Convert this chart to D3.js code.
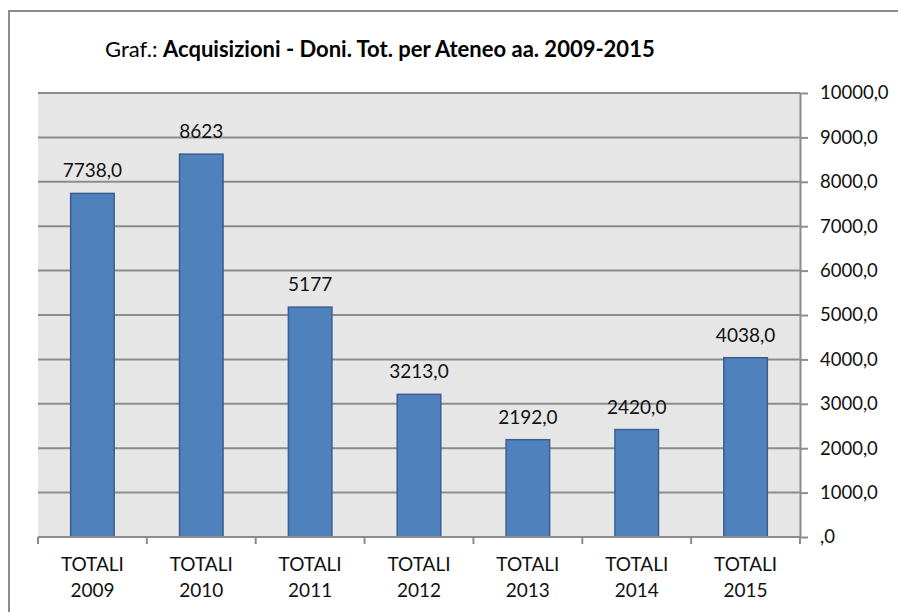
<!DOCTYPE html>
<html>
<head>
<meta charset="utf-8">
<script src="https://cdn.jsdelivr.net/npm/d3@7"></script>
<style>
  body { margin: 0; background: #fff; }
  svg { display: block; font-family: Lato, "Open Sans", sans-serif; }
</style>
</head>
<body>
<div id="chart"></div>
<script>
var categories = ["TOTALI 2009", "TOTALI 2010", "TOTALI 2011", "TOTALI 2012", "TOTALI 2013", "TOTALI 2014", "TOTALI 2015"];
var values = [7738, 8623, 5177, 3213, 2192, 2420, 4038];
var valueLabels = ["7738,0", "8623", "5177", "3213,0", "2192,0", "2420,0", "4038,0"];
var yTicks = [0, 1000, 2000, 3000, 4000, 5000, 6000, 7000, 8000, 9000, 10000];

var width = 898;
var height = 612;

var margin = ({
    top: 93,
    right: 98,
    bottom: 75,
    left: 38
})

var svg = d3.select("#chart")
    .append("svg")
    .attr("width", width)
    .attr("height", height)

// outer frame, runs off the right and bottom edge
svg.append("rect")
    .attr("x", 9)
    .attr("y", 11)
    .attr("width", 1000)
    .attr("height", 1000)
    .attr("fill", "none")
    .attr("stroke", "#8c8c8c")
    .attr("stroke-width", 2)

var x = d3.scaleBand()
    .domain(categories)
    .range([margin.left, width - margin.right])
    .paddingInner(0.6)
    .paddingOuter(0.3)

var y = d3.scaleLinear()
    .domain([0, 10000])
    .range([height - margin.bottom, margin.top]);

// plot background
svg.append("rect")
    .attr("x", margin.left)
    .attr("y", y(10000))
    .attr("width", width - margin.right - margin.left)
    .attr("height", y(0) - y(10000))
    .attr("fill", "#e6e6e6")

// gridlines
svg.append("g")
    .selectAll("line")
    .data(yTicks.filter(d => d > 0))
    .enter().append("line")
        .attr("x1", margin.left)
        .attr("x2", width - margin.right)
        .attr("y1", d => y(d))
        .attr("y2", d => y(d))
        .attr("stroke", "#8c8c8c")
        .attr("stroke-width", 2)

// bars
svg.append("g")
    .selectAll("rect")
    .data(values)
    .enter().append("rect")
        .attr("x", (d, i) => x(categories[i]))
        .attr("width", x.bandwidth())
        .attr("y", d => y(d))
        .attr("height", d => y(0) - y(d))
        .attr("fill", "#4f81bd")
        .attr("stroke", "#3a5f8f")
        .attr("stroke-width", 1.5)

// value labels
svg.append("g")
    .selectAll("text")
    .data(values)
    .enter().append("text")
        .attr("x", (d, i) => x(categories[i]) + x.bandwidth() / 2)
        .attr("y", d => y(d) - 16)
        .attr("text-anchor", "middle")
        .attr("font-size", 19)
        .attr("fill", "#111")
        .text((d, i) => valueLabels[i])

// right axis
var yAxis = g => g
    .attr("transform", `translate(${width - margin.right}, 0)`)
    .call(d3.axisRight(y).tickValues(yTicks).tickSize(8).tickSizeOuter(0)
        .tickFormat(d => d === 0 ? ",0" : d + ",0"))
    .call(g => g.select(".domain").attr("stroke", "#8c8c8c").attr("stroke-width", 2))
    .call(g => g.selectAll(".tick line").attr("stroke", "#8c8c8c").attr("stroke-width", 2))
    .call(g => g.selectAll(".tick text")
        .attr("x", 20)
        .attr("font-family", "Lato, 'Open Sans', sans-serif")
        .attr("font-size", 18.5)
        .attr("fill", "#111"))

svg.append("g").call(yAxis);

// bottom axis with tick marks between categories
var xEdges = categories.map(c => x(c) - x.step() * x.paddingInner() / 2)
    .concat([width - margin.right]);

svg.append("line")
    .attr("x1", margin.left)
    .attr("x2", width - margin.right)
    .attr("y1", y(0))
    .attr("y2", y(0))
    .attr("stroke", "#8c8c8c")
    .attr("stroke-width", 2)

svg.append("g")
    .selectAll("line")
    .data(xEdges)
    .enter().append("line")
        .attr("x1", d => d)
        .attr("x2", d => d)
        .attr("y1", y(0))
        .attr("y2", y(0) + 7)
        .attr("stroke", "#8c8c8c")
        .attr("stroke-width", 2)

var xLabels = svg.append("g")
    .selectAll("text")
    .data(categories)
    .enter().append("text")
        .attr("x", d => x(d) + x.bandwidth() / 2)
        .attr("y", 571)
        .attr("text-anchor", "middle")
        .attr("font-size", 19)
        .attr("fill", "#111")

xLabels.append("tspan")
    .text(d => d.split(" ")[0])
xLabels.append("tspan")
    .attr("x", d => x(d) + x.bandwidth() / 2)
    .attr("dy", 26)
    .text(d => d.split(" ")[1])

// title
var title = svg.append("text")
    .attr("x", 105)
    .attr("y", 57)
    .attr("font-size", 22)
    .attr("fill", "#000")

title.append("tspan").text("Graf.: ")
title.append("tspan").attr("font-weight", "bold").text("Acquisizioni - Doni. Tot. per Ateneo aa. 2009-2015")
</script>
</body>
</html>
